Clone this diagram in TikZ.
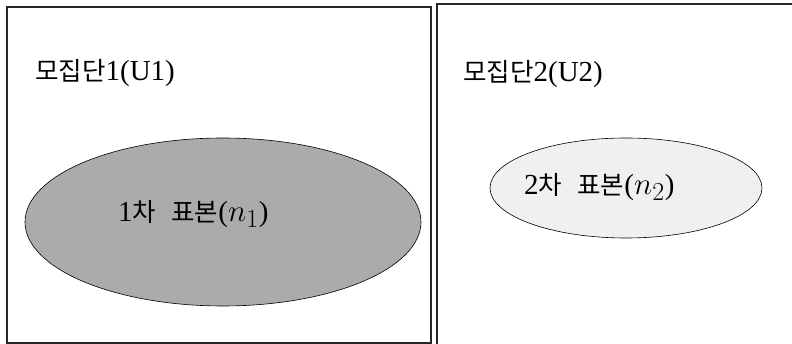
\documentclass[tikz,border=0pt]{standalone}
\usepackage{fontspec}
\setmainfont{Liberation Serif}
\newfontfamily\kr[Scale=0.88]{Noto Sans CJK KR}
\begin{document}
\begin{tikzpicture}[x=1pt,y=1pt,
  frame/.style={draw=black!85,line width=1.4pt},
  lbl/.style={font=\fontsize{29}{32}\selectfont,inner sep=0pt,anchor=west},
  oval/.style={draw=black,line width=0.6pt}]
\useasboundingbox (0,0) rectangle (792,344);
\clip (0,0) rectangle (792,344);
\fill[white] (0,0) rectangle (792,344);
\draw[frame] (7,1) rectangle (431,337);
\draw[frame] (437,-5) rectangle (800,340);
\draw[oval,fill=black!33] (223,122) ellipse [x radius=198, y radius=84];
\draw[oval,fill=black!6] (626,156) ellipse [x radius=136, y radius=50];
\node[lbl] (u1) at (35,271) {{\kr 모집단}1(U1)};
\node[lbl] (u2) at (463,270) {{\kr 모집단}2(U2)};
\node[lbl] (n1) at (118,130) {1{\kr 차\hspace{0.6em}표본}(\scalebox{1.25}{$n_1$})};
\node[lbl] (n2) at (524,157) {2{\kr 차\hspace{0.6em}표본}(\scalebox{1.25}{$n_2$})};
\end{tikzpicture}
\end{document}
